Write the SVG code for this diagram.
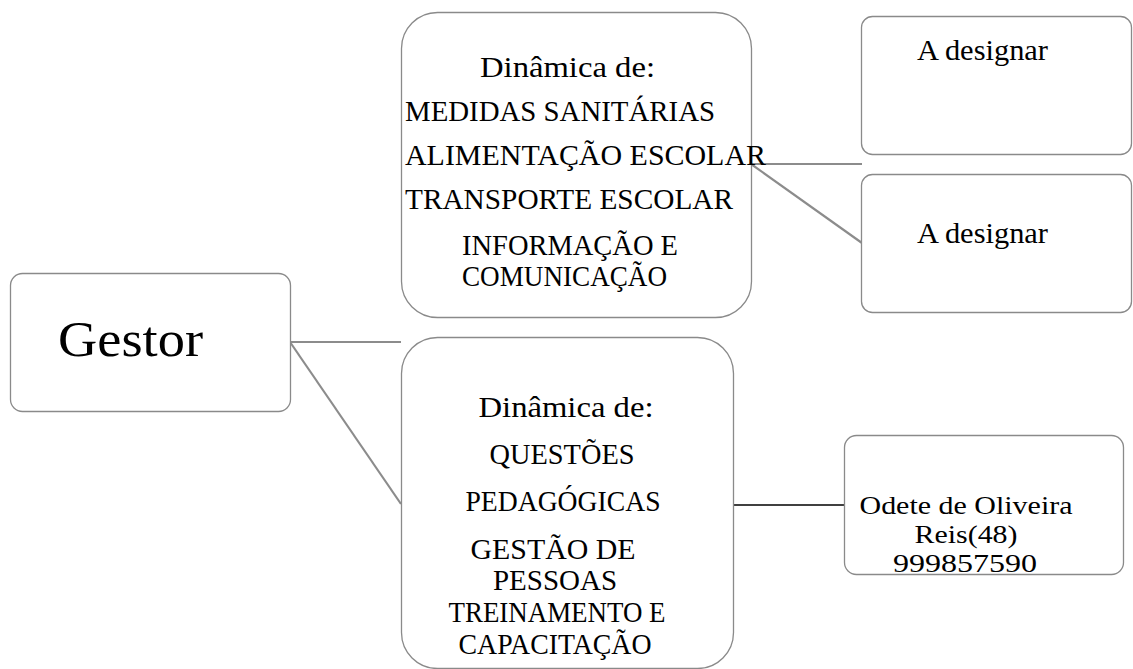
<svg xmlns="http://www.w3.org/2000/svg" width="1133" height="669" viewBox="0 0 1133 669">
<style>
.box{fill:#fff;stroke:#8a8a8a;stroke-width:1.3}
.t{font-family:"Liberation Serif","Times New Roman",serif;font-size:30px;fill:#000}
.c{text-anchor:middle}
.g{font-size:51px}
.o{font-size:26px}
.conn{stroke:#8c8c8c;stroke-width:2.2;fill:none}
.connb{stroke:#000;stroke-width:1.6;fill:none}
</style>
<rect width="1133" height="669" fill="#fff"/>
<g id="connectors">
<line class="conn" x1="290" y1="342" x2="401" y2="342"/>
<line class="conn" x1="290" y1="342" x2="401" y2="504"/>
<line class="conn" x1="751" y1="164" x2="862" y2="164"/>
<line class="conn" x1="751" y1="164" x2="862" y2="243"/>
<line class="connb" x1="733" y1="505" x2="844" y2="505"/>
</g>
<g id="gestor">
<rect class="box" x="10.5" y="273.5" width="280" height="138" rx="12"/>
<text class="t g" x="58" y="356" textLength="145" lengthAdjust="spacingAndGlyphs">Gestor</text>
</g>
<g id="dinamica1">
<rect class="box" x="401.5" y="12.5" width="350" height="305" rx="36"/>
<text class="t" x="480" y="77" textLength="175" lengthAdjust="spacingAndGlyphs">Dinâmica de:</text>
<text class="t" x="405" y="121" textLength="310" lengthAdjust="spacingAndGlyphs">MEDIDAS SANITÁRIAS</text>
<text class="t" x="405" y="165" textLength="361" lengthAdjust="spacingAndGlyphs">ALIMENTAÇÃO ESCOLAR</text>
<text class="t" x="405" y="209" textLength="328" lengthAdjust="spacingAndGlyphs">TRANSPORTE ESCOLAR</text>
<text class="t" x="462" y="255" textLength="216" lengthAdjust="spacingAndGlyphs">INFORMAÇÃO E</text>
<text class="t" x="462" y="286" textLength="205" lengthAdjust="spacingAndGlyphs">COMUNICAÇÃO</text>
</g>
<g id="designar1">
<rect class="box" x="861.5" y="16.5" width="270" height="138" rx="11"/>
<text class="t" x="917" y="60" textLength="131" lengthAdjust="spacingAndGlyphs">A designar</text>
</g>
<g id="designar2">
<rect class="box" x="861.5" y="174.5" width="270" height="138" rx="11"/>
<text class="t" x="917" y="243" textLength="131" lengthAdjust="spacingAndGlyphs">A designar</text>
</g>
<g id="dinamica2">
<rect class="box" x="401.5" y="337.5" width="332" height="331" rx="36"/>
<text class="t c" x="566" y="417" textLength="175" lengthAdjust="spacingAndGlyphs">Dinâmica de:</text>
<text class="t c" x="562" y="464" textLength="145" lengthAdjust="spacingAndGlyphs">QUESTÕES</text>
<text class="t c" x="563" y="511" textLength="195" lengthAdjust="spacingAndGlyphs">PEDAGÓGICAS</text>
<text class="t c" x="553" y="559" textLength="165" lengthAdjust="spacingAndGlyphs">GESTÃO DE</text>
<text class="t c" x="555" y="590" textLength="124" lengthAdjust="spacingAndGlyphs">PESSOAS</text>
<text class="t c" x="557" y="622" textLength="217" lengthAdjust="spacingAndGlyphs">TREINAMENTO E</text>
<text class="t c" x="555" y="654" textLength="193" lengthAdjust="spacingAndGlyphs">CAPACITAÇÃO</text>
</g>
<g id="odete">
<rect class="box" x="844.5" y="435.5" width="279" height="139" rx="12"/>
<text class="t c o" x="966" y="514" textLength="213" lengthAdjust="spacingAndGlyphs">Odete de Oliveira</text>
<text class="t c o" x="966" y="543" textLength="103" lengthAdjust="spacingAndGlyphs">Reis(48)</text>
<text class="t c o" x="965" y="572" textLength="144" lengthAdjust="spacingAndGlyphs">999857590</text>
</g>
</svg>
